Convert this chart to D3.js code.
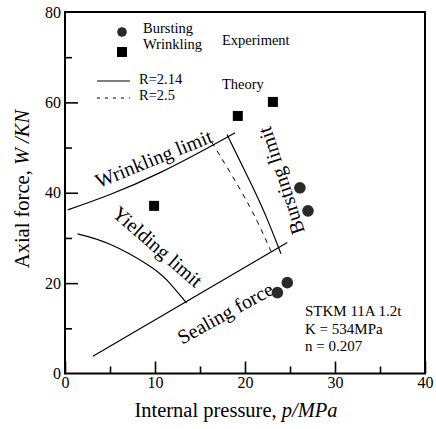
<!DOCTYPE html>
<html>
<head>
<meta charset="utf-8">
<script src="https://cdn.jsdelivr.net/npm/d3@7"></script>
<style>
  html, body { margin: 0; padding: 0; background: #fff; }
  svg { display: block; }
  svg text { font-family: "Liberation Serif", "Times New Roman", serif !important; }
</style>
</head>
<body>
<svg id="chart" width="436" height="429"></svg>
<script>
// ---- data ----
const xTickValues = [0, 10, 20, 30, 40];
const xMinorTicks = [5, 15, 25, 35];
const yTickValues = [0, 20, 40, 60, 80];
const yMajorTicks = [20, 40, 60];
const yMinorTicks = [10, 30, 50, 70];

// experiment
const burstingPoints = [[26.1, 41.1], [27.0, 36.0], [24.7, 20.1], [23.6, 17.9]];
const wrinklingPoints = [[9.9, 37.1], [19.2, 57.0], [23.1, 60.1]];

// theory curves
const wrinklingLimit = [[0.3, 36.2], [5.0, 39.6], [10.5, 44.4], [16.1, 50.2], [18.9, 53.3]];
const yieldingLimit = [[1.4, 30.9], [5.0, 28.6], [9.1, 24.2], [11.3, 20.7], [13.5, 15.6]];
const sealingForce = [[3.1, 3.8], [24.7, 29.0]];
const burstingLimitR214 = [[18.0, 52.9], [20.8, 41.5], [22.5, 34.0], [24.0, 26.5]];
const burstingLimitR25 = [[16.3, 51.2], [19.3, 41.3], [21.4, 33.5], [22.9, 27.0]];

const legendMarkers = ["Bursting", "Wrinkling"];
const legendLines = ["R=2.14", "R=2.5"];
const materialInfo = ["STKM 11A 1.2t", "K = 534MPa", "n = 0.207"];

// ---- layout ----
const svg = d3.select("#chart");
const x = d3.scaleLinear().domain([0, 40]).range([65, 425]);
const y = d3.scaleLinear().domain([0, 80]).range([373.5, 12]);

// axes ticks (inward)
const gx = svg.append("g").attr("transform", `translate(0,${y(0)})`)
  .call(d3.axisBottom(x).tickValues(xTickValues).tickSize(-12).tickPadding(3).tickFormat(d3.format("d")));
const gxm = svg.append("g").attr("transform", `translate(0,${y(0)})`)
  .call(d3.axisBottom(x).tickValues(xMinorTicks).tickSize(-7).tickFormat(""));
const gy = svg.append("g").attr("transform", `translate(${x(0)},0)`)
  .call(d3.axisLeft(y).tickValues(yTickValues).tickSize(0).tickPadding(4).tickFormat(d3.format("d")));
const gyM = svg.append("g").attr("transform", `translate(${x(0)},0)`)
  .call(d3.axisLeft(y).tickValues(yMajorTicks).tickSize(-13).tickFormat(""));
const gym = svg.append("g").attr("transform", `translate(${x(0)},0)`)
  .call(d3.axisLeft(y).tickValues(yMinorTicks).tickSize(-7).tickFormat(""));

[gx, gxm, gy, gyM, gym].forEach(g => {
  g.attr("font-family", null);
  g.select(".domain").remove();
  g.selectAll("line").attr("stroke", "#000").attr("stroke-width", 1.6);
  g.selectAll("text").style("font-family", "'Liberation Serif', serif").attr("font-size", 16).attr("fill", "#000");
});

// frame
svg.append("rect")
  .attr("x", x(0)).attr("y", y(80))
  .attr("width", x(40) - x(0)).attr("height", y(0) - y(80))
  .attr("fill", "none").attr("stroke", "#000").attr("stroke-width", 2);

// axis titles
const xt = svg.append("text").attr("x", 236).attr("y", 417)
  .attr("text-anchor", "middle").attr("font-size", 20.5);
xt.append("tspan").text("Internal pressure, ");
xt.append("tspan").attr("font-style", "italic").text("p/MPa");

const yt = svg.append("text").attr("transform", "translate(29,189) rotate(-90)")
  .attr("text-anchor", "middle").attr("font-size", 20.5);
yt.append("tspan").text("Axial force, ");
yt.append("tspan").attr("font-style", "italic").text("W /KN");

// curves
const line = d3.line().x(d => x(d[0])).y(d => y(d[1]));
const smooth = d3.line().x(d => x(d[0])).y(d => y(d[1])).curve(d3.curveNatural);

svg.append("path").attr("d", smooth(wrinklingLimit)).attr("fill", "none").attr("stroke", "#000").attr("stroke-width", 1.2);
svg.append("path").attr("d", smooth(yieldingLimit)).attr("fill", "none").attr("stroke", "#000").attr("stroke-width", 1.2);
svg.append("path").attr("d", line(sealingForce)).attr("fill", "none").attr("stroke", "#000").attr("stroke-width", 1.2);
svg.append("path").attr("d", smooth(burstingLimitR214)).attr("fill", "none").attr("stroke", "#000").attr("stroke-width", 1.2);
svg.append("path").attr("d", smooth(burstingLimitR25)).attr("fill", "none").attr("stroke", "#000").attr("stroke-width", 1)
  .attr("stroke-dasharray", "5,5");

// curve labels
function label(txt, px, py, angle) {
  svg.append("text")
    .attr("transform", `translate(${px},${py}) rotate(${angle})`)
    .attr("text-anchor", "middle").attr("dy", "0.35em")
    .attr("font-size", 20).text(txt);
}
label("Wrinkling limit", x(9.85), y(47.6), -22);
label("Yielding limit", x(10.3), y(28.1), 41);
label("Sealing force", x(17.8), y(13.4), -29);
label("Bursting limit", x(24.0), y(42.65), -108);

// experimental points
svg.append("g").selectAll("circle").data(burstingPoints).join("circle")
  .attr("cx", d => x(d[0])).attr("cy", d => y(d[1])).attr("r", 5.8)
  .attr("fill", "#2a2a2a");
svg.append("g").selectAll("rect").data(wrinklingPoints).join("rect")
  .attr("x", d => x(d[0]) - 5).attr("y", d => y(d[1]) - 5)
  .attr("width", 10).attr("height", 10).attr("fill", "#000");

// legend
svg.append("circle").attr("cx", 122).attr("cy", 32).attr("r", 4.8).attr("fill", "#2a2a2a");
svg.append("rect").attr("x", 117).attr("y", 47).attr("width", 10).attr("height", 10).attr("fill", "#000");
svg.selectAll("text.lm").data(legendMarkers).join("text").attr("class", "lm")
  .attr("x", 143).attr("y", (d, i) => 33 + i * 15.5)
  .attr("font-size", 14.5).text(d => d);
svg.append("text").attr("x", 222).attr("y", 45).attr("font-size", 14.5).text("Experiment");

svg.append("line").attr("x1", 97).attr("x2", 130).attr("y1", 81).attr("y2", 81)
  .attr("stroke", "#000").attr("stroke-width", 1);
svg.append("line").attr("x1", 97).attr("x2", 130).attr("y1", 98).attr("y2", 98)
  .attr("stroke", "#000").attr("stroke-width", 1).attr("stroke-dasharray", "3,5");
svg.selectAll("text.ll").data(legendLines).join("text").attr("class", "ll")
  .attr("x", 139).attr("y", (d, i) => 83.5 + i * 16.5)
  .attr("font-size", 14.5).text(d => d);
svg.append("text").attr("x", 222).attr("y", 89).attr("font-size", 14.5).text("Theory");

// material info
svg.selectAll("text.mi").data(materialInfo).join("text").attr("class", "mi")
  .attr("x", 305).attr("y", (d, i) => 316 + i * 17.5)
  .attr("font-size", 15).text(d => d);
</script>
</body>
</html>
